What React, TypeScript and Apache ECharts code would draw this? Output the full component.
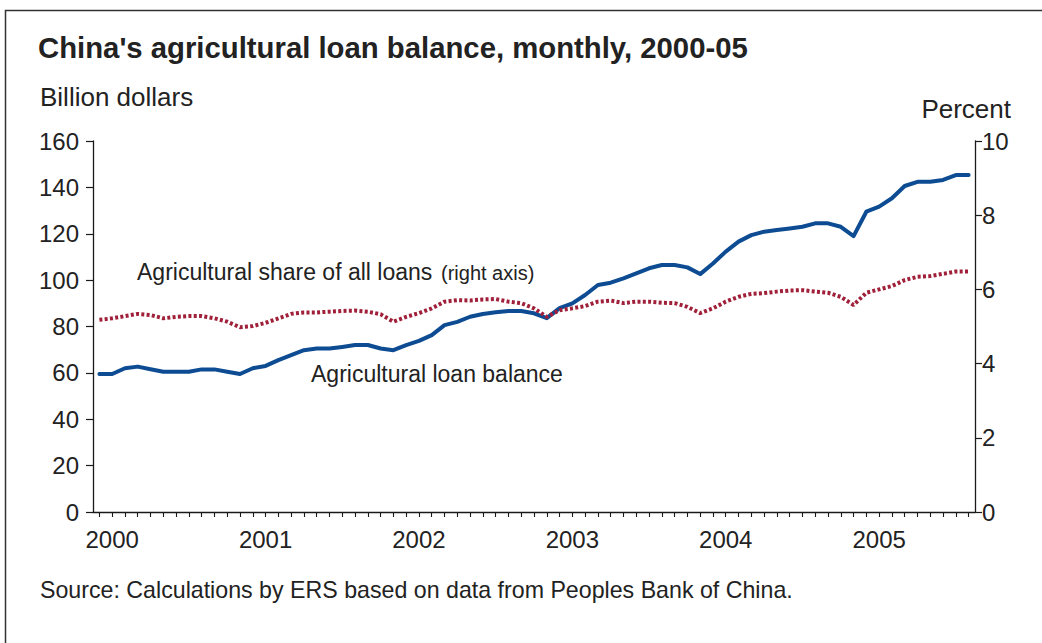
import React, { useEffect, useRef } from "react";
import * as echarts from "echarts";

// Monthly categories (69 points); year tick labels appear at index 1 + 12k
const categories: string[] = (() => {
  const out: string[] = [];
  let y = 1999;
  let m = 12;
  for (let i = 0; i < 69; i++) {
    out.push(`${y}-${String(m).padStart(2, "0")}`);
    m++;
    if (m > 12) {
      m = 1;
      y++;
    }
  }
  return out;
})();

const yearLabels = ["2000", "2001", "2002", "2003", "2004", "2005"];

// Agricultural loan balance, billion dollars (left axis)
const loanBalance = [
  59.5, 59.5, 62, 62.7, 61.6, 60.5, 60.5, 60.5, 61.5, 61.5,
  60.5, 59.5, 62, 63, 65.5, 67.7, 69.8, 70.5, 70.5, 71.2,
  72, 72, 70.5, 69.8, 72, 73.8, 76.3, 80.6, 82, 84.2,
  85.4, 86.1, 86.7, 86.7, 85.7, 83.6, 87.9, 90, 93.6, 97.9,
  98.9, 100.8, 102.9, 105.1, 106.5, 106.5, 105.5, 102.6, 107.2, 112.3,
  116.6, 119.4, 120.9, 121.6, 122.3, 123, 124.5, 124.5, 123, 119,
  129.5, 131.7, 135.3, 140.6, 142.4, 142.4, 143.2, 145.3, 145.3,
];

// Agricultural share of all loans, percent (right axis)
const agShare = [
  5.18, 5.22, 5.28, 5.34, 5.31, 5.22, 5.26, 5.28, 5.28, 5.22,
  5.13, 4.98, 5.01, 5.1, 5.22, 5.34, 5.38, 5.38, 5.4, 5.42,
  5.43, 5.4, 5.33, 5.13, 5.26, 5.36, 5.49, 5.67, 5.71, 5.7,
  5.73, 5.74, 5.67, 5.63, 5.49, 5.26, 5.44, 5.49, 5.55, 5.67,
  5.7, 5.63, 5.67, 5.67, 5.64, 5.63, 5.53, 5.36, 5.49, 5.67,
  5.8, 5.88, 5.9, 5.94, 5.97, 5.98, 5.94, 5.91, 5.8, 5.58,
  5.91, 6.0, 6.09, 6.25, 6.34, 6.36, 6.42, 6.48, 6.48,
];

const FONT = "'Liberation Sans', Arial, Helvetica, sans-serif";
const TXT = "#222222";
const AXIS = "#1a1a1a";

export default function App() {
  const ref = useRef<HTMLDivElement>(null);

  useEffect(() => {
    if (!ref.current) return;
    const chart = echarts.init(ref.current, undefined, { renderer: "svg" });
    const axisLineStyle = { color: AXIS, width: 1.3 };
    chart.setOption({
      animation: false,
      backgroundColor: "#ffffff",
      grid: { left: 93, right: 67, top: 141, bottom: 131, containLabel: false },
      xAxis: {
        type: "category",
        data: categories,
        boundaryGap: true,
        axisLine: { show: true, lineStyle: axisLineStyle },
        axisTick: {
          show: true,
          alignWithLabel: true,
          interval: 0,
          length: 5,
          lineStyle: { color: AXIS, width: 1.1 },
        },
        axisLabel: {
          interval: (index: number) => index % 12 === 1,
          formatter: (_v: string, index: number) => {
            const k = Math.floor((index - 1) / 12);
            return yearLabels[k] ?? "";
          },
          color: TXT,
          fontSize: 24,
          fontFamily: FONT,
          margin: 15,
        },
        splitLine: { show: false },
      },
      yAxis: [
        {
          type: "value",
          min: 0,
          max: 160,
          interval: 20,
          position: "left",
          axisLine: { show: true, lineStyle: axisLineStyle },
          axisTick: { show: true, length: 7, lineStyle: { color: AXIS, width: 1.2 } },
          axisLabel: { color: TXT, fontSize: 24, fontFamily: FONT, margin: 14 },
          splitLine: { show: false },
        },
        {
          type: "value",
          min: 0,
          max: 10,
          interval: 2,
          position: "right",
          axisLine: { show: true, lineStyle: axisLineStyle },
          axisTick: { show: true, length: 7, lineStyle: { color: AXIS, width: 1.2 } },
          axisLabel: { color: TXT, fontSize: 24, fontFamily: FONT, margin: 7 },
          splitLine: { show: false },
        },
      ],
      series: [
        {
          name: "Agricultural loan balance",
          type: "line",
          yAxisIndex: 0,
          data: loanBalance,
          symbol: "none",
          smooth: false,
          lineStyle: { color: "#0d4c92", width: 4, join: "round", cap: "round" },
          z: 2,
        },
        {
          name: "Agricultural share of all loans",
          type: "line",
          yAxisIndex: 1,
          data: agShare,
          symbol: "none",
          smooth: false,
          lineStyle: { color: "#a0203a", width: 4, type: [3, 2.3] },
          z: 3,
        },
      ],
      graphic: [
        {
          type: "rect",
          shape: { x: 5.5, y: 10.5, width: 1100, height: 700 },
          style: { fill: "none", stroke: "#333333", lineWidth: 1.5 },
          silent: true,
        },
        {
          type: "text",
          x: 38,
          y: 47,
          style: {
            text: "China's agricultural loan balance, monthly, 2000-05",
            fill: TXT,
            font: `bold 29.3px ${FONT}`,
            verticalAlign: "middle",
          },
        },
        {
          type: "text",
          x: 40,
          y: 97,
          style: {
            text: "Billion dollars",
            fill: TXT,
            font: `26px ${FONT}`,
            verticalAlign: "middle",
          },
        },
        {
          type: "text",
          x: 1011,
          y: 109,
          style: {
            text: "Percent",
            fill: TXT,
            font: `26px ${FONT}`,
            align: "right",
            verticalAlign: "middle",
          },
        },
        {
          type: "text",
          x: 137,
          y: 271.5,
          style: {
            text: "Agricultural share of all loans",
            fill: TXT,
            font: `23px ${FONT}`,
            verticalAlign: "middle",
          },
        },
        {
          type: "text",
          x: 441,
          y: 272.5,
          style: {
            text: "(right axis)",
            fill: TXT,
            font: `20px ${FONT}`,
            verticalAlign: "middle",
          },
        },
        {
          type: "text",
          x: 311,
          y: 374,
          style: {
            text: "Agricultural loan balance",
            fill: TXT,
            font: `23px ${FONT}`,
            verticalAlign: "middle",
          },
        },
        {
          type: "text",
          x: 40,
          y: 590,
          style: {
            text: "Source: Calculations by ERS based on data from Peoples Bank of China.",
            fill: TXT,
            font: `23.2px ${FONT}`,
            verticalAlign: "middle",
          },
        },
      ],
    });
    return () => chart.dispose();
  }, []);

  return (
    <div
      ref={ref}
      style={{ position: "fixed", left: 0, top: 0, width: 1042, height: 643, background: "#fff" }}
    />
  );
}
